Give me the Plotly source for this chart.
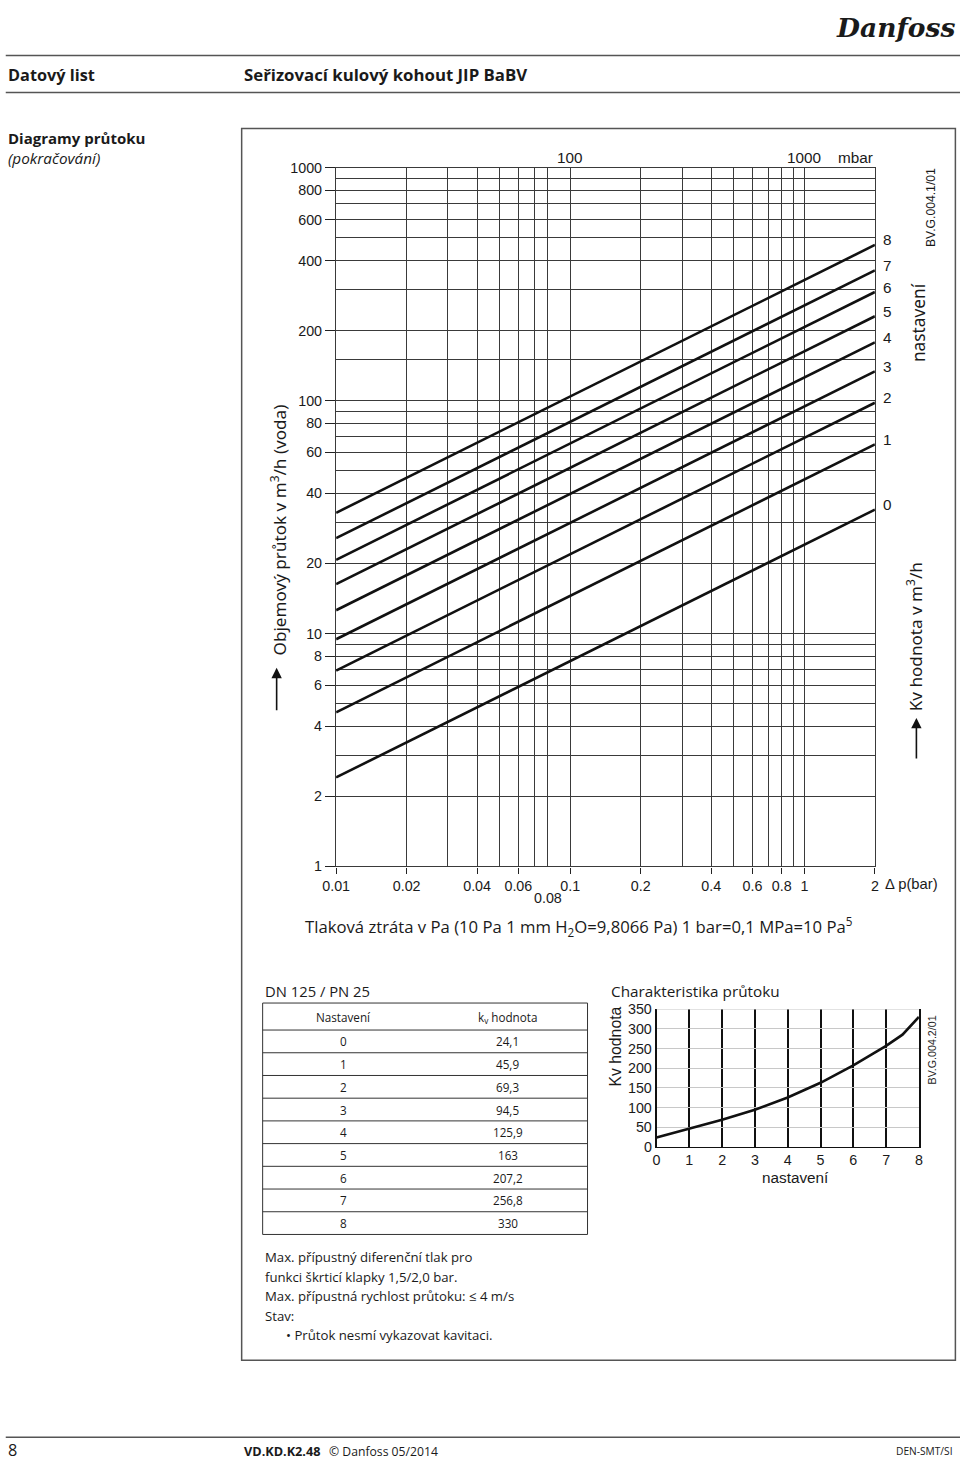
import math
import plotly.graph_objects as go

# ---------------- data ----------------
settings = [0, 1, 2, 3, 4, 5, 6, 7, 8]
kv_values = [24.1, 45.9, 69.3, 94.5, 125.9, 163, 207.2, 256.8, 330]

dp_range = [0.01, 2]  # bar
x_major = [0.01, 0.02, 0.04, 0.06, 0.1, 0.2, 0.4, 0.6, 0.8, 1, 2]
x_major_text = ["0.01", "0.02", "0.04", "0.06", "0.1", "0.2", "0.4", "0.6", "0.8", "1", "2"]
x_minor = [0.03, 0.05, 0.07, 0.08, 0.3, 0.5, 0.7, 0.9]
y_major = [1, 2, 4, 6, 8, 10, 20, 40, 60, 80, 100, 200, 400, 600, 800, 1000]
y_minor = [3, 5, 7, 9, 30, 50, 70, 90, 150, 300, 500, 700, 900]

# small chart curve
curve_x = [0, 1, 2, 3, 4, 5, 6, 7, 7.5, 8]
curve_y = [24.1, 45.9, 69.3, 94.5, 125.9, 163, 207.2, 256.8, 285, 330]

# figure size and the page->screen mapping observed in the viewer
W, H = 980, 1472
SX, SY = 0.982, 0.9886
OX, OY = 13.5, 8.6


def px(X):
    return (X / SX - OX) / W


def py(Y):
    return 1 - (Y / SY - OY) / H


def fs(s):
    return round(s / SX, 1)


ARIAL = "Liberation Sans, Arial"
MYRIAD = "Open Sans, Noto Sans"
GRID = "#3a3a3a"

fig = go.Figure()

# main chart lines
for s, kv in zip(settings, kv_values):
    xs = dp_range
    ys = [kv * math.sqrt(v) for v in xs]
    fig.add_trace(go.Scatter(x=xs, y=ys, mode="lines", line=dict(color="#111", width=2.6),
                             xaxis="x", yaxis="y", showlegend=False, hoverinfo="skip"))

# small chart
fig.add_trace(go.Scatter(x=curve_x, y=curve_y, mode="lines", line=dict(color="#111", width=2.6),
                         xaxis="x2", yaxis="y2", showlegend=False, hoverinfo="skip"))

annotations = []


def ann(text, x, y, size, xanchor="left", yanchor="middle", angle=0, family=MYRIAD, color="#1a1a1a", **kw):
    d = dict(text=text, x=px(x), y=py(y), xref="paper", yref="paper", showarrow=False,
             xanchor=xanchor, yanchor=yanchor, textangle=angle,
             font=dict(size=fs(size), family=family, color=color))
    d.update(kw)
    annotations.append(d)


# header
ann("<i><b>Danfoss</b></i>", 957, 28, 26, xanchor="right", family="DejaVu Serif")
ann("<b>Datový list</b>", 5, 75, 16)
ann("<b>Seřizovací kulový kohout JIP BaBV</b>", 241, 75, 16.5)
ann("<b>Diagramy průtoku</b>", 5, 138, 14.7)
ann("<i>(pokračování)</i>", 5, 158, 15)

# main chart labels
for s, kv in zip(settings, kv_values):
    annotations.append(dict(text=str(s), x=math.log10(dp_range[1]), y=math.log10(kv * math.sqrt(dp_range[1])),
                            xref="x", yref="y", showarrow=False, xanchor="left", yanchor="middle",
                            xshift=6, yshift=5, font=dict(size=fs(15), family=ARIAL, color="#1a1a1a")))
annotations.append(dict(text="100", x=math.log10(0.1), y=py(158), xref="x", yref="paper", showarrow=False,
                        xanchor="center", yanchor="middle", font=dict(size=fs(15), family=ARIAL, color="#1a1a1a")))
annotations.append(dict(text="1000", x=math.log10(1), y=py(158), xref="x", yref="paper", showarrow=False,
                        xanchor="center", yanchor="middle", font=dict(size=fs(15), family=ARIAL, color="#1a1a1a")))
ann("mbar", 855, 158, 15, xanchor="center", family=ARIAL)
annotations.append(dict(text="0.08", x=math.log10(0.08), y=py(898), xref="x", yref="paper", showarrow=False,
                        xanchor="center", yanchor="middle", font=dict(size=fs(14), family=ARIAL, color="#1a1a1a")))
ann("Δ p(bar)", 883, 884, 14.5, family=ARIAL)
ann("Tlaková ztráta v Pa (10 Pa 1 mm H<sub>2</sub>O=9,8066 Pa) 1 bar=0,1 MPa=10 Pa<sup>5</sup>",
    302, 927, 16.4)

ann("Objemový průtok v m<sup>3</sup>/h (voda)", 278, 530, 16.8, xanchor="center", angle=-90, family="Noto Sans")
ann("Kv hodnota v m<sup>3</sup>/h", 914, 637, 16.8, xanchor="center", angle=-90, family="Noto Sans")
ann("nastavení", 918, 323, 17, xanchor="center", angle=-90, family="Noto Sans")
ann("BV.G.004.1/01", 930, 208, 12, xanchor="center", angle=-90, family=ARIAL)

# arrows
annotations.append(dict(text="", x=px(276), y=py(668), xref="paper", yref="paper", showarrow=True,
                        ax=0, ay=44, arrowhead=2, arrowsize=1.3, arrowwidth=1.6, arrowcolor="#111"))
annotations.append(dict(text="", x=px(916), y=py(718), xref="paper", yref="paper", showarrow=True,
                        ax=0, ay=42, arrowhead=2, arrowsize=1.3, arrowwidth=1.6, arrowcolor="#111"))

# table
ann("DN 125 / PN 25", 262, 991, 14.5)
tab_left, tab_right = 262, 587
tab_top = 1003
header_bottom = 1030
row_h = 22.7
col1_x, col2_x = 343, 507
ann("Nastavení", col1_x, 1017, 11.5, xanchor="center")
ann("k<sub>v</sub> hodnota", col2_x, 1017, 11.5, xanchor="center")
shapes = []


def hline(x0, x1, y, color="#333", width=1):
    shapes.append(dict(type="line", xref="paper", yref="paper", x0=px(x0), x1=px(x1), y0=py(y), y1=py(y),
                       line=dict(color=color, width=width)))


for i, (s, kv) in enumerate(zip(settings, kv_values)):
    yc = header_bottom + row_h * (i + 0.5)
    ann(str(s), col1_x, yc, 11.5, xanchor="center")
    ann(("%g" % kv).replace(".", ","), col2_x, yc, 11.5, xanchor="center")
    hline(tab_left, tab_right, header_bottom + row_h * i)
tab_bottom = header_bottom + row_h * len(settings)
hline(tab_left, tab_right, tab_top)
hline(tab_left, tab_right, tab_bottom)
shapes.append(dict(type="line", xref="paper", yref="paper", x0=px(tab_left), x1=px(tab_left),
                   y0=py(tab_top), y1=py(tab_bottom), line=dict(color="#333", width=1)))
shapes.append(dict(type="line", xref="paper", yref="paper", x0=px(tab_right), x1=px(tab_right),
                   y0=py(tab_top), y1=py(tab_bottom), line=dict(color="#333", width=1)))

# small chart texts
ann("Charakteristika průtoku", 608, 991, 15)
ann("Kv hodnota", 615, 1047, 15.5, xanchor="center", angle=-90, family=ARIAL)
ann("nastavení", 795, 1177, 15, xanchor="center", family=ARIAL)
ann("BV.G.004.2/01", 932, 1050, 10.5, xanchor="center", angle=-90, family=ARIAL)
# light top border of the small chart at the top of its value range
shapes.append(dict(type="line", xref="x2", yref="y2", x0=0, x1=8, y0=350, y1=350,
                   line=dict(color="#c8c8c8", width=1)))

# notes
ann("Max. přípustný diferenční tlak pro", 262, 1257, 13)
ann("funkci škrticí klapky 1,5/2,0 bar.", 262, 1277, 13)
ann("Max. přípustná rychlost průtoku: ≤ 4 m/s", 262, 1296, 13)
ann("Stav:", 262, 1316, 13)
ann("• Průtok nesmí vykazovat kavitaci.", 283, 1335, 13)

# footer
ann("8", 5, 1450, 16)
ann("<b>VD.KD.K2.48</b>", 241, 1451, 12.5)
ann("© Danfoss 05/2014", 326, 1451, 12)
ann("DEN-SMT/SI", 955, 1451, 10, xanchor="right")

# frames and rules
hline(5, 960, 56, color="#555", width=1.5)
hline(5, 960, 93, color="#555", width=1.5)
hline(5, 960, 1437, color="#555", width=1.5)
shapes.append(dict(type="rect", xref="paper", yref="paper", x0=px(241), x1=px(955), y0=py(129), y1=py(1360),
                   line=dict(color="#555", width=1.5)))

tickfont = dict(size=fs(14), family=ARIAL, color="#1a1a1a")
small_tickfont = dict(size=fs(14), family=ARIAL, color="#1a1a1a")

fig.update_layout(
    width=W, height=H, margin=dict(l=0, r=0, t=0, b=0),
    paper_bgcolor="white", plot_bgcolor="white", showlegend=False,
    annotations=annotations, shapes=shapes,
    xaxis=dict(type="log", range=[-2, math.log10(2)], domain=[px(335.5), px(874.5)], anchor="y",
               tickmode="array", tickvals=x_major, ticktext=x_major_text, ticks="outside", ticklen=6,
               tickcolor="#222", tickfont=tickfont, showgrid=True, gridcolor=GRID, gridwidth=1.2,
               minor=dict(tickmode="array", tickvals=x_minor, showgrid=True, gridcolor=GRID, gridwidth=1.2, ticks=""),
               showline=True, linecolor=GRID, linewidth=1.4, mirror=True, zeroline=False),
    yaxis=dict(type="log", range=[0, 3], domain=[py(866.4), py(168.3)], anchor="x",
               tickmode="array", tickvals=y_major, ticktext=[str(v) for v in y_major], ticks="outside", ticklen=10,
               tickcolor="#222", tickfont=tickfont, showgrid=True, gridcolor=GRID, gridwidth=1.2,
               minor=dict(tickmode="array", tickvals=y_minor, showgrid=True, gridcolor=GRID, gridwidth=1.2, ticks=""),
               showline=True, linecolor=GRID, linewidth=1.4, mirror=True, zeroline=False),
    xaxis2=dict(range=[0, 8], domain=[px(656), px(918.5)], anchor="y2", tickmode="array", tickvals=settings,
                tickfont=small_tickfont, showgrid=True, gridcolor="#111",
                gridwidth=1.6, showline=True, linecolor="#111", linewidth=1.4, mirror=False, zeroline=False,
                ticks=""),
    yaxis2=dict(range=[0, 350], domain=[py(1147), py(1009)], anchor="x2", tickmode="linear", tick0=0, dtick=50,
                tickfont=small_tickfont, showgrid=True, gridcolor="#c8c8c8",
                gridwidth=1, showline=True, linecolor="#111", linewidth=1.6, mirror=True, zeroline=False,
                ticks=""),
)

fig.write_html("out.html")
